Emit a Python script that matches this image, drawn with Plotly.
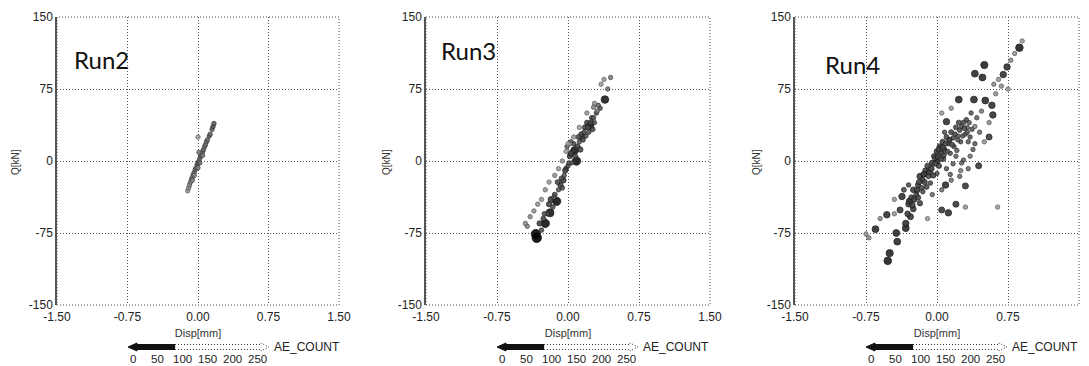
import plotly.graph_objects as go

# ---------------- data ----------------
run2_disp = [-0.11, -0.10, -0.09, -0.08, -0.07, -0.06, -0.05, -0.04, -0.03, -0.02, -0.01, 0.00,
             0.01, 0.02, 0.03, 0.04, 0.05, 0.06, 0.07, 0.08, 0.09, 0.10, 0.12, 0.13, 0.15, 0.16,
             0.17, -0.06, 0.00, 0.05, 0.02, -0.04, 0.01, 0.00]
run2_q = [-31, -28, -25, -22, -19, -17, -14, -12, -9, -7, -4, -2,
          0, 3, 5, 8, 10, 12, 15, 17, 20, 22, 26, 28, 33, 36,
          39, -20, -7, 6, -2, -15, 9, 25]
run2_ae = [30, 40, 50, 60, 50, 70, 60, 70, 80, 70, 80, 90,
           80, 70, 90, 80, 70, 80, 70, 80, 70, 80, 90, 80, 90, 100,
           100, 50, 60, 60, 70, 50, 60, 20]

run3_disp = [-0.33, -0.34, -0.24, -0.19, -0.12, 0.09, 0.07, 0.23, 0.39, -0.05, 0.15,
             -0.28, -0.26, -0.22, -0.20, -0.16, -0.14, -0.10, -0.08, -0.06, -0.04, -0.02, 0.00,
             0.02, 0.04, 0.05, 0.06, 0.10, 0.12, 0.14, 0.16, 0.18, 0.20, 0.22, 0.25, 0.26,
             0.28, 0.30, 0.34, 0.32, 0.42, 0.45,
             -0.30, -0.25, -0.18, -0.15, -0.11, -0.07, -0.03, 0.01, 0.03, 0.08, 0.11, 0.13,
             0.17, 0.19, 0.21, 0.24, 0.27, 0.03, -0.01,
             -0.43, -0.45, -0.40, -0.36, -0.32, -0.28, -0.24, -0.20, -0.14, -0.10, -0.06,
             -0.02, 0.02, 0.06, 0.12, 0.20, 0.28, 0.35, 0.38, 0.31, 0.27, 0.00]
run3_q = [-80, -76, -65, -54, -42, 0, 11, 37, 64, -20, 25,
          -72, -60, -55, -45, -48, -35, -30, -25, -28, -15, -8, -5,
          5, -2, 10, 18, 15, 20, 28, 22, 35, 40, 30, 45, 33,
          40, 50, 55, 58, 75, 87,
          -65, -55, -40, -38, -22, -18, -10, -2, 8, 5, 25, 12,
          30, 26, 35, 40, 45, 20, 15,
          -68, -65, -58, -52, -45, -40, -30, -22, -15, -8, 0,
          10, 18, 25, 35, 50, 60, 80, 85, 52, 56, 18]
run3_ae = [250, 240, 220, 210, 220, 220, 200, 210, 200, 150, 160,
           120, 130, 110, 140, 120, 130, 110, 140, 120, 110, 130, 120,
           140, 110, 130, 120, 140, 110, 130, 120, 140, 130, 110, 120, 130,
           110, 120, 100, 90, 70, 60,
           140, 120, 150, 110, 130, 120, 140, 110, 150, 120, 130, 140,
           120, 110, 130, 140, 120, 100, 90,
           50, 40, 40, 30, 30, 25, 30, 25, 30, 20, 25,
           20, 30, 25, 20, 25, 30, 20, 25, 60, 50, 15]

run4_disp = [0.87, 0.50, 0.40, 0.48, 0.70, 0.74, 0.23, 0.39, 0.51, 0.58, 0.59, 0.55, 0.44,
             0.30, 0.09, 0.20, 0.12, 0.05, -0.53, -0.65, -0.43, -0.42, -0.50, -0.52, -0.33,
             -0.33, -0.29, -0.37, 0.10,
             -0.25, -0.20, -0.18, -0.15, -0.12, -0.10, -0.08, -0.05, -0.03, 0.00, 0.00, 0.02,
             0.03, 0.05, 0.06, 0.08, 0.10, 0.12, 0.14, 0.15, 0.17, 0.18, 0.20, 0.21, 0.24,
             0.25, 0.28, 0.30, 0.31, 0.33, 0.35, 0.38, 0.40, 0.28, 0.24, 0.17, -0.11, -0.07,
             0.00, -0.18, -0.39, -0.25, -0.28, -0.22, -0.30, -0.35, -0.05, 0.05, 0.15, 0.25,
             0.35, 0.45, 0.42, 0.36, 0.32, -0.02, 0.07, 0.13, 0.22, -0.14, -0.21,
             -0.30, -0.27, -0.24, -0.21, -0.19, -0.16, -0.14, -0.13, -0.09, -0.06, -0.04,
             -0.02, 0.01, 0.02, 0.04, 0.06, 0.07, 0.09, 0.11, 0.13, 0.16, 0.19, 0.22, 0.23,
             0.26, 0.27, 0.29, 0.32, 0.34, 0.37, 0.20, 0.26, 0.33, 0.10, 0.14, -0.20, -0.26,
             -0.31, -0.15, 0.08,
             -0.72, -0.75, -0.60, -0.45, 0.60, 0.65, 0.78, 0.82, 0.90, 0.68, 0.62, 0.75,
             0.55, 0.50, -0.10, 0.30, -0.45, 0.15, 0.05, 0.64, 0.40, 0.47]
run4_q = [118, 100, 91, 87, 90, 98, 64, 64, 63, 58, 48, 25, -5,
          -26, -25, -45, -54, -51, -56, -71, -75, -84, -96, -104, -70,
          -65, -42, -37, 41,
          -30, -25, -16, -20, -10, -5, -12, -2, 5, 0, 10, -5,
          15, 8, 20, 12, 25, 18, 8, 30, 24, 15, 35, 11, 32,
          20, 40, 28, 43, 20, 25, 12, 18, 1, -16, -3, -27, -23,
          -13, -44, -51, -50, -58, -35, -25, -30, -35, -30, -20, -10,
          5, 30, 45, 50, 35, 3, 2, 22, 26, -14, -31,
          -45, -38, -40, -30, -22, -28, -14, -22, -16, -8, -15,
          -3, 4, 12, 2, 14, 6, 18, 10, 22, 17, 28, 22, 40,
          36, 26, 34, 30, 40, 33, 5, -2, -8, -8, -14, -38, -46,
          -55, -32, 30,
          -80, -76, -60, -55, 80, 85, 105, 112, 125, 78, 70, 75,
          40, 20, -60, -48, -40, 55, 50, -48, 36, 52]
run4_ae = [200, 190, 180, 180, 170, 170, 180, 180, 180, 170, 170, 160, 160,
           160, 170, 160, 170, 160, 170, 180, 180, 180, 190, 200, 180,
           170, 170, 170, 170,
           150, 140, 160, 130, 150, 140, 160, 150, 140, 160, 150, 140,
           150, 130, 140, 120, 130, 120, 110, 130, 120, 110, 130, 100, 120,
           110, 130, 110, 120, 100, 110, 90, 100, 90, 80, 90, 130, 120,
           110, 140, 160, 150, 160, 130, 120, 130, 80, 70, 70, 60,
           70, 80, 90, 100, 90, 130, 120, 110, 100, 140, 130,
           150, 140, 150, 130, 140, 130, 150, 140, 130, 150, 140,
           130, 150, 140, 130, 150, 140, 130, 120, 140, 130, 120, 110, 130,
           120, 110, 120, 110, 100, 110, 90, 90, 80, 100, 90, 140, 150,
           150, 120, 110,
           40, 30, 40, 30, 40, 30, 40, 30, 20, 40, 30, 20,
           40, 30, 20, 30, 30, 30, 20, 20, 50, 60]

x_ticks = [-1.50, -0.75, 0.00, 0.75, 1.50]
x_tick_text = ["-1.50", "-0.75", "0.00", "0.75", "1.50"]
y_ticks = [-150, -75, 0, 75, 150]
y_tick_text = ["-150", "-75", "0", "75", "150"]
legend_ticks = [0, 50, 100, 150, 200, 250]
run_names = ["Run2", "Run3", "Run4"]

runs = [(run2_disp, run2_q, run2_ae), (run3_disp, run3_q, run3_ae), (run4_disp, run4_q, run4_ae)]

# ---------------- layout geometry ----------------
W, H = 1089, 366
plot_px = [(57, 339), (426, 710), (795, 1079)]
y_top_px, y_bot_px = 17, 305
title_off = [15, 13, 28]
title_y = [59, 50, 65]
ylabel_x = [15, 386, 756]
DOTS = "1px,2px"

fig = go.Figure()
FONT = "Liberation Sans, Arial, sans-serif"

for i, (dx, dq, ae) in enumerate(runs):
    n = "" if i == 0 else str(i + 1)
    fig.add_trace(go.Scatter(
        x=dx, y=dq, mode="markers", xaxis="x" + n, yaxis="y" + n, showlegend=False,
        marker=dict(
            size=ae, sizemode="diameter", sizeref=250 / 9.5, sizemin=2.2,
            color=ae, cmin=0, cmax=250,
            colorscale=[[0, "#b0b0b0"], [0.4, "#606060"], [1, "#000000"]],
            line=dict(width=0.8, color=ae, cmin=0, cmax=250,
                      colorscale=[[0, "#666666"], [0.4, "#222222"], [1, "#000000"]]),
            opacity=0.9,
        ),
    ))

    x0, x1 = plot_px[i]
    xd = [x0 / W, x1 / W]
    yd = [1 - y_bot_px / H, 1 - y_top_px / H]
    common = dict(showgrid=True, gridcolor="#555555", griddash=DOTS, gridwidth=1,
                  zeroline=False, ticks="", automargin=False,
                  tickfont=dict(family=FONT, size=12, color="#222"))
    fig.layout["xaxis" + n] = dict(
        domain=xd, range=[-1.5, 1.5], anchor="y" + n, tickvals=x_ticks, ticktext=x_tick_text,
        ticklabelstandoff=3,
        title=dict(text="Disp[mm]", font=dict(family=FONT, size=11, color="#333"), standoff=6),
        showline=False, **common)
    fig.layout["yaxis" + n] = dict(
        domain=yd, range=[-150, 150], anchor="x" + n, tickvals=y_ticks, ticktext=y_tick_text,
        showline=True, linecolor="#555555", linewidth=1.5, **common)

    xr = "x" + n + " domain"
    yr = "y" + n + " domain"
    # dotted frame
    fig.add_shape(type="rect", xref=xr, yref=yr, x0=0, x1=1, y0=0, y1=1,
                  line=dict(color="#444444", width=1, dash=DOTS), layer="below")
    # run title
    fig.add_annotation(text=run_names[i], xref="paper", yref="paper",
                       x=(x0 + title_off[i]) / W, y=1 - title_y[i] / H,
                       xanchor="left", yanchor="middle", showarrow=False,
                       font=dict(family="Lato, Open Sans, sans-serif", size=24, color="#111"))
    # y axis label
    fig.add_annotation(text="Q[kN]", xref="paper", yref="paper",
                       x=ylabel_x[i] / W, y=1 - 162 / H, textangle=-90,
                       xanchor="center", yanchor="middle", showarrow=False,
                       font=dict(family=FONT, size=10, color="#333"))

    # AE_COUNT legend arrow
    a0 = x0 + 71
    a_mid = x0 + 118
    a1 = x0 + 212
    ay = 1 - 347 / H
    th = 2.5 / H
    hh = 4 / H
    fig.add_shape(type="path", xref="paper", yref="paper",
                  path=f"M {a0/W} {ay} L {(a0+9)/W} {ay+hh} L {(a0+9)/W} {ay+th} L {a_mid/W} {ay+th} "
                       f"L {a_mid/W} {ay-th} L {(a0+9)/W} {ay-th} L {(a0+9)/W} {ay-hh} Z",
                  fillcolor="#111111", line=dict(color="#111111", width=1))
    fig.add_shape(type="path", xref="paper", yref="paper",
                  path=f"M {a_mid/W} {ay+th} L {(a1-8)/W} {ay+th} L {(a1-8)/W} {ay+hh} L {a1/W} {ay} "
                       f"L {(a1-8)/W} {ay-hh} L {(a1-8)/W} {ay-th} L {a_mid/W} {ay-th} Z",
                  fillcolor="white", line=dict(color="#333333", width=1, dash=DOTS))
    fig.add_annotation(text="AE_COUNT", xref="paper", yref="paper", x=(a1 + 3) / W, y=ay,
                       xanchor="left", yanchor="middle", showarrow=False,
                       font=dict(family=FONT, size=12, color="#222"))
    for v in legend_ticks:
        fig.add_annotation(text=str(v), xref="paper", yref="paper",
                           x=(x0 + 76 + v * 124 / 250) / W, y=1 - 359 / H,
                           xanchor="center", yanchor="middle", showarrow=False,
                           font=dict(family=FONT, size=11.5, color="#222"))

fig.update_layout(width=W, height=H, margin=dict(l=0, r=0, t=0, b=0),
                  paper_bgcolor="white", plot_bgcolor="white", showlegend=False)

fig.write_html("out.html")
